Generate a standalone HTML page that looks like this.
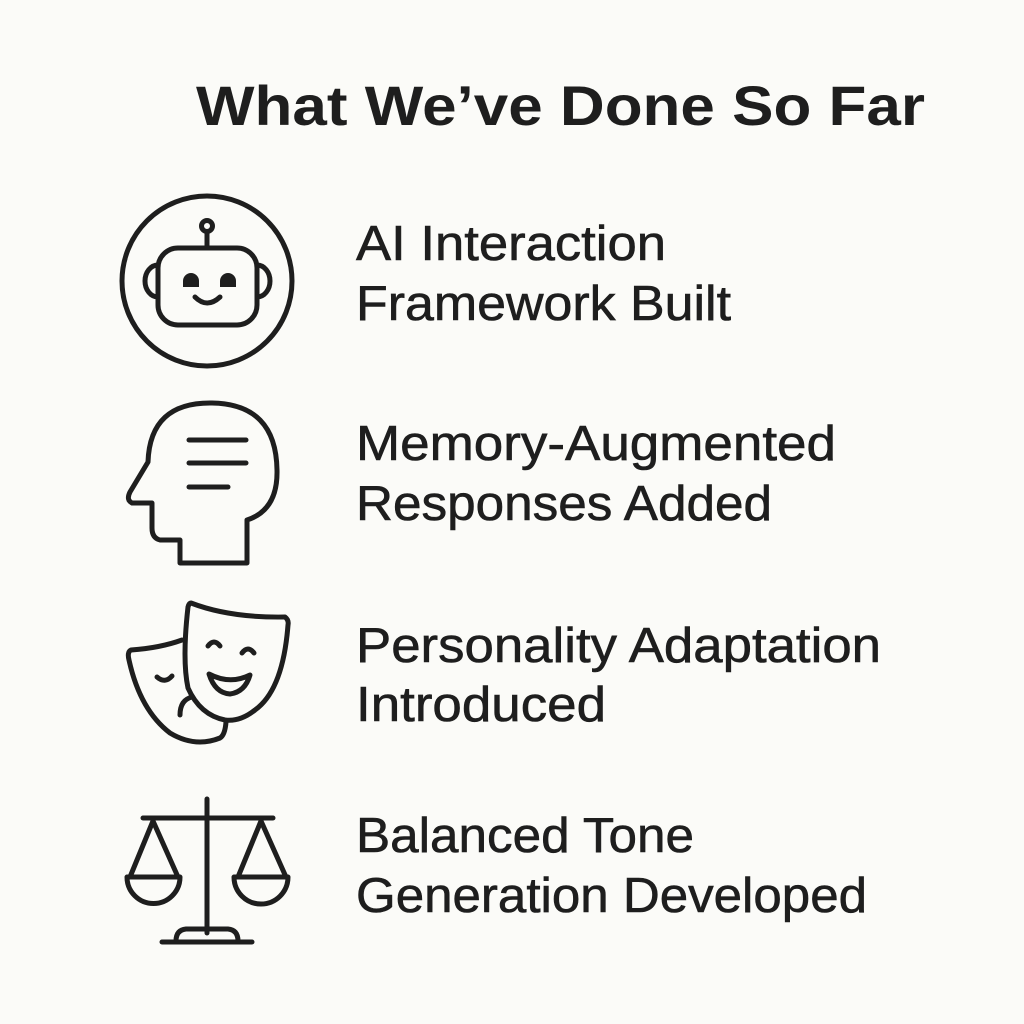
<!DOCTYPE html>
<html><head><meta charset="utf-8"><style>
html,body{margin:0;padding:0;background:#fbfbf8;}
svg{display:block}
text{font-family:"Liberation Sans",sans-serif;fill:#1e1e1e;}
</style></head><body>
<svg width="1024" height="1024" viewBox="0 0 1024 1024">
<rect width="1024" height="1024" fill="#fbfbf8"/>
<text x="196" y="125" font-size="56" font-weight="bold" textLength="729" lengthAdjust="spacingAndGlyphs">What We’ve Done So Far</text>
<g font-size="49" stroke="#1e1e1e" stroke-width="0.6">
<text x="356" y="260" textLength="310" lengthAdjust="spacingAndGlyphs">AI Interaction</text>
<text x="356" y="320" textLength="375" lengthAdjust="spacingAndGlyphs">Framework Built</text>
<text x="356" y="460" textLength="480" lengthAdjust="spacingAndGlyphs">Memory-Augmented</text>
<text x="356" y="520" textLength="416" lengthAdjust="spacingAndGlyphs">Responses Added</text>
<text x="356" y="662" textLength="525" lengthAdjust="spacingAndGlyphs">Personality Adaptation</text>
<text x="356" y="721" textLength="250" lengthAdjust="spacingAndGlyphs">Introduced</text>
<text x="356" y="852" textLength="338" lengthAdjust="spacingAndGlyphs">Balanced Tone</text>
<text x="356" y="912" textLength="511" lengthAdjust="spacingAndGlyphs">Generation Developed</text>
</g>
<g fill="none" stroke="#1e1e1e" stroke-width="5" stroke-linecap="round" stroke-linejoin="round">
<!-- robot -->
<circle cx="207" cy="281" r="85"/>
<circle cx="207" cy="226" r="5.5"/>
<line x1="207" y1="232" x2="207" y2="247"/>
<rect x="158" y="248" width="99" height="77" rx="20"/>
<path d="M158 265 A13 16 0 0 0 158 297"/>
<path d="M257 265 A13 16 0 0 1 257 297"/>
<path d="M195 297 Q207 309 220 297"/>
<!-- head -->
<path d="M180 563 L180 540 L160 540 Q152 538 152 528 L152 503 L132 503 Q126 500 130 492 L148 462 Q150 402 212 403 Q276 404 277 470 Q278 510 247 520 L247 563 Z"/>
<line x1="189" y1="440" x2="246" y2="440"/>
<line x1="189" y1="463" x2="246" y2="463"/>
<line x1="189" y1="487" x2="228" y2="487"/>
<!-- masks -->
<path d="M182 640 Q160 648 131 650 Q127 652 129 660 Q140 710 170 733 Q195 748 220 738 Q225 735 226 722"/>
<path d="M191 603 Q230 618 285 617 Q289 620 288 625 Q283 690 255 710 Q240 722 225 720 Q200 715 188 688 Q182 660 188 607 Q189 603 191 603 Z"/>
<path d="M157 677 Q165 684 172 676"/>
<path d="M180 715 Q180 700 192 697"/>
<path d="M208 646 Q214 638 220 646"/>
<path d="M242 653 Q248 645 254 653"/>
<path d="M209 674 Q230 685 250 675 Q245 692 230 694 Q215 693 209 674 Z"/>
<!-- scales -->
<line x1="207" y1="799" x2="207" y2="933"/>
<line x1="143" y1="818" x2="273" y2="818"/>
<path d="M153 821 L130 877 M153 821 L178 877"/>
<path d="M261 821 L238 877 M261 821 L286 877"/>
<path d="M127 877 L180 877 A26.5 26.5 0 0 1 127 877 Z"/>
<path d="M234 877 L288 877 A27 27 0 0 1 234 877 Z"/>
<line x1="162" y1="942" x2="252" y2="942"/>
<path d="M176 941 Q176 930 186 929 L228 929 Q238 930 238 941"/>
</g>
<g fill="#1e1e1e">
<path d="M183 287 L183 281 A8 8 0 0 1 199 281 L199 287 Z"/>
<path d="M220 287 L220 281 A8 8 0 0 1 236 281 L236 287 Z"/>
</g>
</svg>
</body></html>
